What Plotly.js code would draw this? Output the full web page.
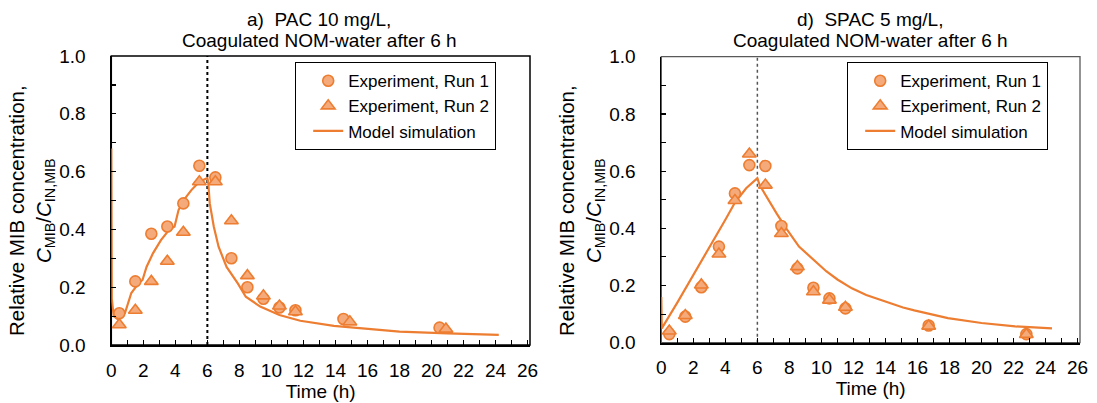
<!DOCTYPE html>
<html>
<head>
<meta charset="utf-8">
<script src="https://cdn.plot.ly/plotly-3.0.1.min.js"></script>
<style>html,body{margin:0;padding:0;background:#fff;}#chart{width:1097px;height:403px;}</style>
</head>
<body>
<div id="chart"></div>
<script>
// ---- Data ----
const switchTime = 6; // h, coagulated NOM-water added

// Panel a) PAC 10 mg/L
const timeRun1A = [0.5, 1.5, 2.5, 3.5, 4.5, 5.5, 6.5, 7.5, 8.5, 9.5, 10.5, 11.5, 14.5, 20.5];
const mibRun1A  = [0.11, 0.22, 0.385, 0.41, 0.49, 0.62, 0.58, 0.30, 0.20, 0.16, 0.13, 0.12, 0.09, 0.06];
const timeRun2A = [0.5, 1.5, 2.5, 3.5, 4.5, 5.5, 6.5, 7.5, 8.5, 9.5, 10.5, 11.5, 14.9, 20.9];
const mibRun2A  = [0.07, 0.12, 0.22, 0.29, 0.39, 0.565, 0.565, 0.43, 0.24, 0.17, 0.135, 0.115, 0.08, 0.055];
const timeModelA = [0, 0.03, 0.15, 0.45, 0.85, 1.25, 1.7, 1.95, 2.2, 2.6, 3.1, 3.6, 3.95, 4.2, 4.5, 5.0, 5.5, 5.85, 6.0, 6.05, 6.15, 6.4, 6.7, 7.2, 7.9, 8.4, 9.3, 10.5, 11.8, 13.9, 16, 18, 21, 24.2];
const mibModelA  = [0.68, 0.16, 0.10, 0.087, 0.11, 0.18, 0.213, 0.225, 0.27, 0.317, 0.363, 0.398, 0.41, 0.467, 0.50, 0.536, 0.565, 0.575, 0.578, 0.565, 0.49, 0.41, 0.34, 0.27, 0.213, 0.167, 0.133, 0.104, 0.084, 0.066, 0.055, 0.046, 0.04, 0.035];

// Panel d) SPAC 5 mg/L
const timeRun1D = [0.5, 1.5, 2.5, 3.6, 4.6, 5.5, 6.5, 7.5, 8.5, 9.5, 10.5, 11.5, 16.7, 22.8];
const mibRun1D  = [0.03, 0.091, 0.194, 0.336, 0.522, 0.621, 0.618, 0.408, 0.26, 0.192, 0.155, 0.12, 0.06, 0.03];
const timeRun2D = [0.5, 1.5, 2.5, 3.6, 4.6, 5.5, 6.5, 7.5, 8.5, 9.5, 10.5, 11.5, 16.7, 22.8];
const mibRun2D  = [0.041, 0.095, 0.202, 0.31, 0.497, 0.66, 0.551, 0.382, 0.266, 0.178, 0.149, 0.124, 0.058, 0.029];
const timeModelD = [0, 0.03, 1, 2, 3, 4, 4.6, 5.3, 6.0, 6.15, 7.2, 7.8, 8.6, 9.7, 10.3, 11, 11.9, 12.8, 14, 15.1, 15.8, 17.9, 20, 22.1, 24.4];
const mibModelD  = [0.16, 0.05, 0.14, 0.235, 0.33, 0.43, 0.49, 0.54, 0.575, 0.55, 0.452, 0.40, 0.336, 0.28, 0.25, 0.221, 0.19, 0.167, 0.143, 0.123, 0.113, 0.086, 0.069, 0.057, 0.05];

const xTickVals = [0, 2, 4, 6, 8, 10, 12, 14, 16, 18, 20, 22, 24, 26];
const yTickVals = [0, 0.2, 0.4, 0.6, 0.8, 1.0];
const seriesNames = ['Experiment, Run 1', 'Experiment, Run 2', 'Model simulation'];
const titleLine1 = ['a)&nbsp; PAC 10 mg/L,', 'd)&nbsp; SPAC 5 mg/L,'];
const titleLine2 = 'Coagulated NOM-water after 6 h';
const yTitle = 'Relative MIB concentration,<br><i>C</i><sub>MIB</sub>/<i>C</i><sub>IN,MIB</sub>';
const xTitle = 'Time (h)';

// ---- Styles ----
const W = 1097, H = 403;
const ORANGE = '#ED7D31';
const FILL = '#F4AA7A';
const FONT = '"Liberation Sans", Arial, sans-serif';
const TXT = '#000000';
const FS = 19;

function px(v){ return v / W; }
function py(v){ return 1 - v / H; }

function markerTrace(x, y, name, symbol, size, xa, ya, leg, rank){
  return {x, y, name, type:'scatter', mode:'markers', xaxis:xa, yaxis:ya, legend:leg, legendrank:rank,
    marker:{symbol, size, color:FILL, line:{color:ORANGE, width:1.6}}};
}
function lineTrace(x, y, name, xa, ya, leg, rank){
  return {x, y, name, type:'scatter', mode:'lines', xaxis:xa, yaxis:ya, legend:leg, legendrank:rank,
    line:{color:ORANGE, width:2.2}};
}

const data = [
  lineTrace(timeModelA, mibModelA, seriesNames[2], 'x', 'y', 'legend', 3),
  markerTrace(timeRun1A, mibRun1A, seriesNames[0], 'circle', 11, 'x', 'y', 'legend', 1),
  markerTrace(timeRun2A, mibRun2A, seriesNames[1], 'triangle-up', 12, 'x', 'y', 'legend', 2),
  lineTrace(timeModelD, mibModelD, seriesNames[2], 'x2', 'y2', 'legend2', 3),
  markerTrace(timeRun1D, mibRun1D, seriesNames[0], 'circle', 11, 'x2', 'y2', 'legend2', 1),
  markerTrace(timeRun2D, mibRun2D, seriesNames[1], 'triangle-up', 12, 'x2', 'y2', 'legend2', 2),
];

function xAxis(domain, anchor){
  return {domain, anchor, range:[0, 26.15], tickvals:xTickVals, ticks:'inside', ticklen:5, tickwidth:1.2, tickcolor:'#000',
    minor:{dtick:1, tick0:0, ticks:'inside', ticklen:5, tickwidth:1.2, tickcolor:'#000'},
    showline:true, linecolor:'#000', linewidth:1.8, showgrid:false, zeroline:false,
    ticklabelstandoff:7, tickfont:{family:FONT, size:FS, color:TXT},
    title:{text:xTitle, font:{family:FONT, size:FS, color:TXT}, standoff:3}, fixedrange:true};
}
function yAxis(domain, anchor){
  return {domain, anchor, range:[0, 1.0], tickvals:yTickVals, tickformat:'.1f', ticks:'inside', ticklen:5, tickwidth:1.2, tickcolor:'#000',
    minor:{dtick:0.1, tick0:0, ticks:'inside', ticklen:5, tickwidth:1.2, tickcolor:'#000'},
    showline:true, linecolor:'#000', linewidth:1.8, showgrid:false, zeroline:false,
    ticklabelstandoff:20, tickfont:{family:FONT, size:FS, color:TXT}, fixedrange:true};
}
function legendCfg(xp){
  return {x:px(xp), y:py(62), xanchor:'left', yanchor:'top', bgcolor:'#fff', bordercolor:'#000', borderwidth:1.2,
    font:{family:FONT, size:17, color:TXT}, traceorder:'normal', itemwidth:30, indentation:12};
}
function ann(text, x, y, extra){
  return Object.assign({text, xref:'paper', yref:'paper', x:px(x), y:py(y), xanchor:'center', yanchor:'middle',
    showarrow:false, font:{family:FONT, size:FS, color:TXT}}, extra || {});
}

const layout = {
  width:W, height:H, margin:{l:0, r:0, t:0, b:0}, paper_bgcolor:'#fff', plot_bgcolor:'#fff',
  font:{family:FONT, size:FS, color:TXT}, showlegend:true,
  xaxis: xAxis([px(111.3), px(530)], 'y'),
  yaxis: yAxis([py(345), py(56)], 'x'),
  xaxis2: xAxis([px(661.3), px(1080)], 'y2'),
  yaxis2: yAxis([py(342.7), py(56.7)], 'x2'),
  legend: legendCfg(295),
  legend2: legendCfg(847),
  shapes:[
    {type:'rect', xref:'x domain', yref:'y domain', x0:0, x1:1, y0:0, y1:1, line:{color:'#000', width:1.5}, layer:'below'},
    {type:'rect', xref:'x2 domain', yref:'y2 domain', x0:0, x1:1, y0:0, y1:1, line:{color:'#595959', width:1.3}, layer:'below'},
    {type:'line', xref:'x', yref:'y domain', x0:switchTime, x1:switchTime, y0:0, y1:1, line:{color:'#000', width:2, dash:'dot'}, layer:'below'},
    {type:'line', xref:'x2', yref:'y2 domain', x0:switchTime, x1:switchTime, y0:0, y1:1, line:{color:'#555', width:1.5, dash:'dot'}, layer:'below'},
  ],
  annotations:[
    ann(titleLine1[0], 319, 19.5),
    ann(titleLine2, 319, 40),
    ann(titleLine1[1], 870, 19.5),
    ann(titleLine2, 870, 40),
    ann(yTitle, 32, 211, {textangle:-90, font:{family:FONT, size:20.5, color:TXT}}),
    ann(yTitle, 582, 211, {textangle:-90, font:{family:FONT, size:20.5, color:TXT}}),
  ]
};

Plotly.newPlot('chart', data, layout, {displayModeBar:false, staticPlot:true});
</script>
</body>
</html>
